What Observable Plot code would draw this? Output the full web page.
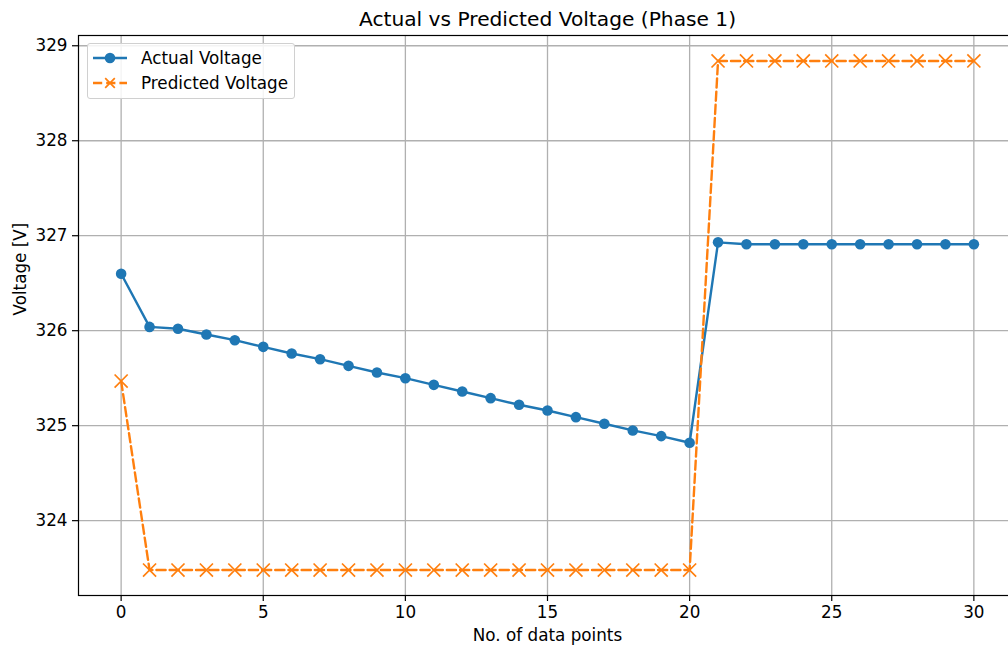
<!DOCTYPE html>
<html>
<head>
<meta charset="utf-8">
<script src="https://cdn.jsdelivr.net/npm/d3@7"></script>
<script src="https://cdn.jsdelivr.net/npm/@observablehq/plot@0.6"></script>
<style>
  html, body { margin: 0; padding: 0; background: #fff; }
  #wrap { position: relative; width: 1008px; height: 645px; overflow: hidden; font-family: "DejaVu Sans", sans-serif; }
  #legend { position: absolute; left: 87px; top: 43px; width: 206px; height: 54px; border: 1px solid #d0d0d0; border-radius: 3px; background: rgba(255,255,255,0.85); }
  #legend svg { position: absolute; left: 0; top: 0; }
</style>
</head>
<body>
<div id="wrap"></div>
<script>
const points = d3.range(0, 31);
const actualVoltage = [326.60, 326.04, 326.02, 325.96, 325.90, 325.83, 325.76, 325.70, 325.63, 325.56,
  325.50, 325.43, 325.36, 325.29, 325.22, 325.16, 325.09, 325.02, 324.95, 324.89,
  324.82, 326.93, 326.91, 326.91, 326.91, 326.91, 326.91, 326.91, 326.91, 326.91, 326.91];
const predictedVoltage = [325.47, 323.48, 323.48, 323.48, 323.48, 323.48, 323.48, 323.48, 323.48, 323.48,
  323.48, 323.48, 323.48, 323.48, 323.48, 323.48, 323.48, 323.48, 323.48, 323.48,
  323.48, 328.84, 328.84, 328.84, 328.84, 328.84, 328.84, 328.84, 328.84, 328.84, 328.84];
const xTicks = [0, 5, 10, 15, 20, 25, 30];
const yTicks = [324, 325, 326, 327, 328, 329];
const seriesNames = ["Actual Voltage", "Predicted Voltage"];
const colors = ["#1f77b4", "#ff7f0e"];

const FONT = "'DejaVu Sans', sans-serif";
const FS = 16.8;
const DASH = "9.2,4";

const actual = points.map((x, i) => ({x, y: actualVoltage[i]}));
const predicted = points.map((x, i) => ({x, y: predictedVoltage[i]}));

const chart = Plot.plot({
  width: 1008,
  height: 645,
  marginLeft: 78,
  marginRight: -8,
  marginTop: 35,
  marginBottom: 50,
  style: {fontFamily: FONT, fontSize: FS + "px", color: "#000", background: "#fff"},
  x: {domain: [-1.5, 31.5], ticks: xTicks, label: null},
  y: {domain: [323.212, 329.108], ticks: yTicks, label: null},
  marks: [
    Plot.gridX(xTicks, {stroke: "#b0b0b0", strokeOpacity: 1, strokeWidth: 1.3}),
    Plot.gridY(yTicks, {stroke: "#b0b0b0", strokeOpacity: 1, strokeWidth: 1.3}),
    Plot.axisX(xTicks, {tickSize: 6, tickPadding: 5, fontSize: FS, strokeWidth: 1.2, label: null, tickFormat: d3.format("d")}),
    Plot.axisY(yTicks, {tickSize: 6, tickPadding: 5, fontSize: FS, strokeWidth: 1.2, label: null, tickFormat: d3.format("d")}),
    Plot.line(actual, {x: "x", y: "y", stroke: colors[0], strokeWidth: 2.4}),
    Plot.dot(actual, {x: "x", y: "y", fill: colors[0], r: 5.3, stroke: null}),
    Plot.line(predicted, {x: "x", y: "y", stroke: colors[1], strokeWidth: 2.4, strokeDasharray: DASH}),
    Plot.dot(predicted, {x: "x", y: "y", symbol: "times", stroke: colors[1], strokeWidth: 1.7, r: 6}),
    Plot.frame({stroke: "#000", strokeWidth: 1.2}),
    Plot.text(["Actual vs Predicted Voltage (Phase 1)"], {frameAnchor: "top", dy: -24, fontSize: 20.2, fill: "#000", fontFamily: FONT}),
    Plot.text(["No. of data points"], {frameAnchor: "bottom", dy: 45, fontSize: FS, fill: "#000", fontFamily: FONT}),
    Plot.text(["Voltage [V]"], {frameAnchor: "left", dx: -58, rotate: -90, fontSize: FS, fill: "#000", fontFamily: FONT})
  ]
});
document.getElementById("wrap").appendChild(chart);

// legend
const legend = document.createElement("div");
legend.id = "legend";
const ns = "http://www.w3.org/2000/svg";
const lsvg = document.createElementNS(ns, "svg");
lsvg.setAttribute("width", 206);
lsvg.setAttribute("height", 54);
seriesNames.forEach((name, i) => {
  const cy = 14 + i * 25;
  const line = document.createElementNS(ns, "line");
  line.setAttribute("x1", 5); line.setAttribute("x2", 39);
  line.setAttribute("y1", cy); line.setAttribute("y2", cy);
  line.setAttribute("stroke", colors[i]); line.setAttribute("stroke-width", 2.4);
  if (i === 1) line.setAttribute("stroke-dasharray", DASH);
  lsvg.appendChild(line);
  if (i === 0) {
    const c = document.createElementNS(ns, "circle");
    c.setAttribute("cx", 22); c.setAttribute("cy", cy); c.setAttribute("r", 5.3);
    c.setAttribute("fill", colors[0]);
    lsvg.appendChild(c);
  } else {
    const p = document.createElementNS(ns, "path");
    const s = 4.8;
    p.setAttribute("d", `M${22-s},${cy-s}L${22+s},${cy+s}M${22-s},${cy+s}L${22+s},${cy-s}`);
    p.setAttribute("stroke", colors[1]); p.setAttribute("stroke-width", 1.7);
    lsvg.appendChild(p);
  }
  const t = document.createElementNS(ns, "text");
  t.setAttribute("x", 53); t.setAttribute("y", cy + 6);
  t.setAttribute("font-size", FS); t.setAttribute("font-family", FONT);
  t.textContent = name;
  lsvg.appendChild(t);
});
legend.appendChild(lsvg);
document.getElementById("wrap").appendChild(legend);
</script>
</body>
</html>
